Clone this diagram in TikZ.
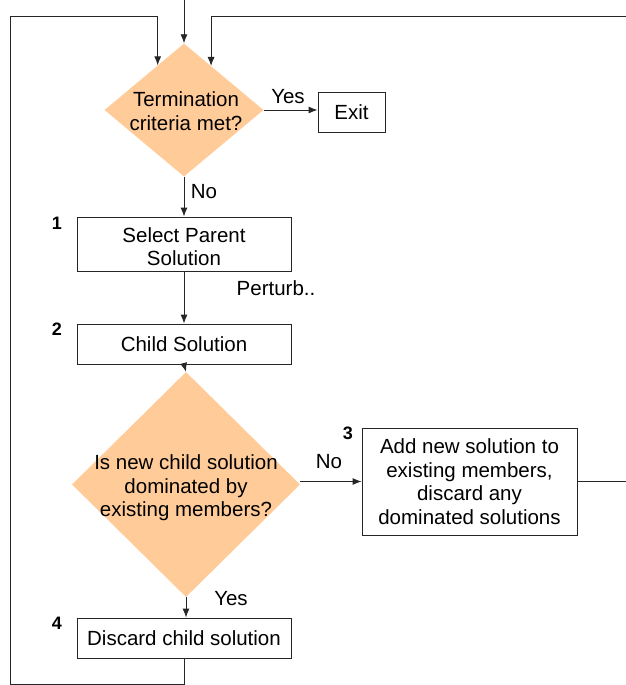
\documentclass[tikz,border=0pt]{standalone}
\usepackage{fontspec}
\setmainfont{Liberation Sans}
\usetikzlibrary{shapes.geometric,arrows.meta,calc}
\begin{document}
\begin{tikzpicture}[x=1pt,y=-1pt,
  every node/.style={font=\fontsize{20.5}{23.6}\selectfont},
  ln/.style={line width=0.9pt,draw=black!85},
  arr/.style={ln,-{Latex[length=9pt,width=7pt]}},
  box/.style={draw=black!85,line width=0.9pt,rectangle,inner sep=0pt,align=center},
  dia/.style={diamond,draw=none,inner sep=0pt},
  num/.style={font=\fontsize{18}{20}\selectfont\bfseries},
  lbl/.style={inner sep=0pt}
]
\definecolor{peach}{RGB}{255,204,153}
\clip (0,0) rectangle (626,685);
\fill[white] (0,0) rectangle (626,685);

% nodes
\node[dia,fill=peach,minimum width=159pt,minimum height=133pt] (d1) at (184,110) {};
\node[align=center,inner sep=0pt] (t1) at (186,111) {Termination\\criteria met?};
\node[box,minimum width=67pt,minimum height=40pt] (exit) at (351.5,112) {Exit};
\node[box,minimum width=214pt,minimum height=54pt] (b1) at (184,244) {};
\node[align=center,inner sep=0pt] (t1b) at (184,246.5) {Select Parent\\Solution};
\node[box,minimum width=214pt,minimum height=40pt] (b2) at (184,344) {Child Solution};
\node[dia,fill=peach,minimum width=228pt,minimum height=225pt] (d2) at (186,484.5) {};
\node[align=center,inner sep=0pt] (t2) at (186,488) {Is new child solution\\dominated by\\existing members?};
\node[box,minimum width=215pt,minimum height=107pt] (b3) at (469.5,481.5) {Add new solution to\\existing members,\\discard any\\dominated solutions};
\node[box,minimum width=214pt,minimum height=40pt] (b4) at (184,638) {Discard child solution};

% numbers
\node[num,lbl] (n1) at (57,223) {1};
\node[num,lbl] (n2) at (57,329) {2};
\node[num,lbl] (n3) at (348,433) {3};
\node[num,lbl] (n4) at (57,623) {4};

% labels
\node[lbl] (yes1) at (288,97) {Yes};
\node[lbl] (no1) at (204,192) {No};
\node[lbl] (pert) at (276,288) {Perturb..};
\node[lbl] (no2) at (329,462) {No};
\node[lbl] (yes2) at (231,599) {Yes};

% coordinates
\coordinate (top) at (184,0);
\coordinate (inL) at ($(d1.north)!0.33!(d1.west)$);
\coordinate (inR) at ($(d1.north)!0.34!(d1.east)$);
\coordinate (BL) at (10,684);
\coordinate (TY) at (0,16);
\coordinate (RR) at (660,16);

% connectors
\draw[arr] (top) -- (d1.north);
\draw[arr] (d1.east) -- (d1.east -| exit.west);
\draw[arr] (d1.south) -- (b1.north);
\draw[arr] (b1.south) -- (b2.north);
\draw[arr] (b2.south) -- (d2.north);
\draw[arr] (b3.west -| d2.east) -- (b3.west);
\draw[arr] (d2.south) -- (d2.south |- b4.north);
\draw[arr] (b4.south) |- (BL) |- (inL |- TY) -- (inL);
\draw[arr] (b3.east) -| (RR) -| (inR);
\end{tikzpicture}
\end{document}
